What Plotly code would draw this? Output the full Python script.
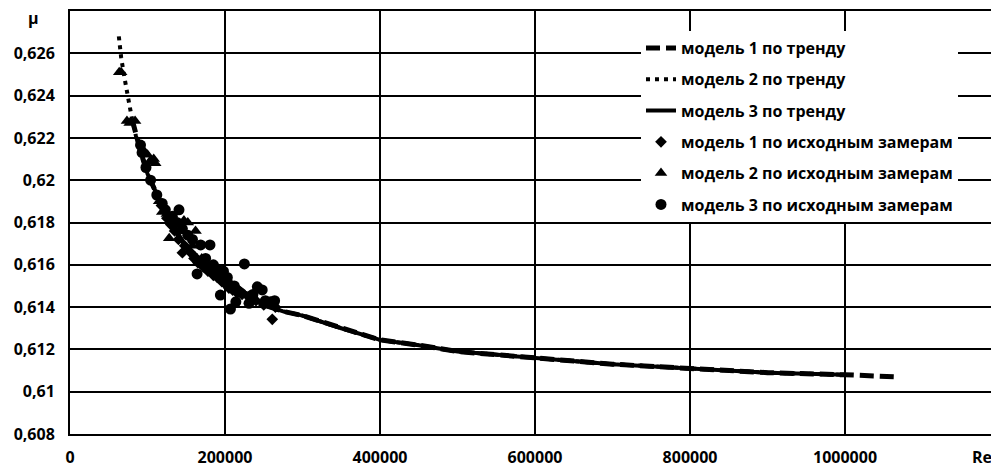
import plotly.graph_objects as go

# ---- trend curves (Re, mu) ----
re_trend1 = [80000, 85000, 90000, 95000, 100000, 110000, 120000, 135000, 150000, 175000,
             200000, 225000, 250000, 275000, 300000, 350000, 400000, 450000, 500000,
             600000, 700000, 800000, 900000, 1000000, 1070000]
mu_trend1 = [0.6229, 0.6221, 0.6215, 0.6209, 0.6203, 0.6195, 0.6187, 0.6177, 0.6168, 0.6161,
             0.6154, 0.6147, 0.6141, 0.6138, 0.6136, 0.6130, 0.61245, 0.6122, 0.6119,
             0.6116, 0.6113, 0.6111, 0.6109, 0.6108, 0.6107]

re_trend2 = [63000, 66000, 70000, 75000, 80000, 85000, 90000, 95000, 100000, 110000, 120000,
             135000, 150000, 175000, 200000, 225000, 250000, 275000, 300000, 350000, 400000,
             450000, 500000, 600000, 700000, 800000, 900000, 1000000]
mu_trend2 = [0.6268, 0.6258, 0.6249, 0.6238, 0.6229, 0.6221, 0.6215, 0.6209, 0.6203, 0.6195,
             0.6187, 0.6177, 0.6168, 0.6161, 0.6154, 0.6147, 0.6141, 0.6138, 0.6136, 0.6130,
             0.61245, 0.6122, 0.6119, 0.6116, 0.6113, 0.6111, 0.6109, 0.6108]

re_trend3 = [90000, 95000, 100000, 110000, 120000, 135000, 150000, 175000, 200000, 225000,
             250000, 275000, 300000, 350000, 400000, 450000, 500000, 600000, 700000,
             800000, 900000, 1000000]
mu_trend3 = [0.6215, 0.6209, 0.6203, 0.6195, 0.6187, 0.6177, 0.6168, 0.6161, 0.6154, 0.6147,
             0.6141, 0.6138, 0.6136, 0.6130, 0.61245, 0.6122, 0.6119, 0.6116, 0.6113,
             0.6111, 0.6109, 0.6108]

# ---- measured points ----
re_meas1 = [118000, 125000, 130000, 135000, 140000, 145000, 148000, 155000, 160000, 165000,
            172000, 178000, 185000, 190000, 196000, 200000, 205000, 210000, 215000, 222000,
            230000, 240000, 250000, 261000, 265000]
mu_meas1 = [0.6188, 0.6182, 0.6179, 0.6176, 0.6172, 0.61657, 0.6169, 0.6166, 0.6163, 0.6161,
            0.6159, 0.6157, 0.6155, 0.6154, 0.6152, 0.6151, 0.6149, 0.6148, 0.6147, 0.6146,
            0.6145, 0.6143, 0.6141, 0.61342, 0.6140]

re_meas2 = [63500, 66000, 73500, 77000, 84000, 95000, 100000, 103000, 108000, 110000, 115000,
            119000, 125000, 128000, 135000, 147000, 152000, 158000, 162000, 170000, 182000,
            192000, 200000, 210000]
mu_meas2 = [0.6251, 0.6251, 0.6228, 0.6227, 0.6228, 0.6214, 0.6212, 0.6209, 0.6210, 0.6208,
            0.6190, 0.6185, 0.6184, 0.61725, 0.6179, 0.6181, 0.6180, 0.6169, 0.6176, 0.6163,
            0.6158, 0.6155, 0.6153, 0.6150]

re_meas3 = [91000, 93000, 98000, 104000, 112000, 119000, 123000, 132000, 138000, 140600,
            145000, 152000, 158000, 164000, 168600, 175000, 180600, 185000, 190000, 194000,
            198000, 203000, 207000, 212000, 214000, 218000, 225000, 231000, 236000, 241700,
            248000, 252000, 259000, 264000]
mu_meas3 = [0.62166, 0.6213, 0.6206, 0.6200, 0.6193, 0.6189, 0.6186, 0.6183, 0.6180, 0.6186,
            0.6177, 0.6174, 0.6172, 0.61557, 0.61694, 0.6163, 0.61694, 0.6160, 0.6158, 0.61457,
            0.6157, 0.6154, 0.61391, 0.6150, 0.61425, 0.6147, 0.61604, 0.61418, 0.6146, 0.61496,
            0.61481, 0.6143, 0.61425, 0.6143]

y_ticks = [0.608, 0.61, 0.612, 0.614, 0.616, 0.618, 0.62, 0.622, 0.624, 0.626]
y_tick_text = ["0,608", "0,61", "0,612", "0,614", "0,616", "0,618", "0,62", "0,622", "0,624", "0,626"]
x_ticks = [0, 200000, 400000, 600000, 800000, 1000000]
x_tick_text = ["0", "200000", "400000", "600000", "800000", "1000000"]

FONT = "Open Sans"
W, H = 999, 459          # page body has an 8px margin; right edge runs past the window
ML, MR, MT, MB = 62, 0, 3, 33
PW, PH = W - ML - MR, H - MT - MB

fig = go.Figure()
fig.add_trace(go.Scatter(x=re_trend1, y=mu_trend1, mode="lines", name="модель 1 по тренду",
                         legendgroup="a",
                         line=dict(color="black", width=5, dash="14px,6px")))
fig.add_trace(go.Scatter(x=re_trend2, y=mu_trend2, mode="lines", name="модель 2 по тренду",
                         legendgroup="b",
                         line=dict(color="black", width=4, dash="4px,5px")))
fig.add_trace(go.Scatter(x=re_trend3, y=mu_trend3, mode="lines", name="модель 3 по тренду",
                         legendgroup="c",
                         line=dict(color="black", width=4)))
fig.add_trace(go.Scatter(x=re_meas1, y=mu_meas1, mode="markers", name="модель 1 по исходным замерам",
                         legendgroup="d",
                         marker=dict(symbol="diamond", size=9, color="black")))
fig.add_trace(go.Scatter(x=re_meas2, y=mu_meas2, mode="markers", name="модель 2 по исходным замерам",
                         legendgroup="e",
                         marker=dict(symbol="triangle-up", size=11, color="black")))
fig.add_trace(go.Scatter(x=re_meas3, y=mu_meas3, mode="markers", name="модель 3 по исходным замерам",
                         legendgroup="f",
                         marker=dict(symbol="circle", size=11, color="black")))

fig.update_layout(
    width=W, height=H,
    margin=dict(l=ML, r=MR, t=MT, b=MB),
    paper_bgcolor="white", plot_bgcolor="white",
    font=dict(family=FONT, color="black"),
    legend=dict(x=571 / PW, y=(PH - 20) / PH, xanchor="left", yanchor="top",
                bgcolor="white", font=dict(family=FONT, size=16, weight="bold", color="black"),
                tracegroupgap=7.5, traceorder="grouped"),
    showlegend=True,
)
fig.update_xaxes(range=[0, 1209000], tickvals=x_ticks, ticktext=x_tick_text,
                 showgrid=True, gridcolor="black", gridwidth=2,
                 showline=True, linecolor="black", linewidth=2, mirror=True,
                 zeroline=False, ticks="", ticklabelstandoff=8,
                 tickfont=dict(family=FONT, size=16, weight="bold", color="black"))
fig.update_yaxes(range=[0.608, 0.628], tickvals=y_ticks, ticktext=y_tick_text,
                 showgrid=True, gridcolor="black", gridwidth=2,
                 showline=True, linecolor="black", linewidth=2,
                 zeroline=False, ticks="", ticklabelstandoff=10,
                 tickfont=dict(family=FONT, size=16, weight="bold", color="black"))

fig.add_annotation(text="μ", xref="paper", yref="paper", x=(25 - ML) / PW, y=1.0,
                   xanchor="center", yanchor="middle", yshift=-7, showarrow=False,
                   font=dict(family=FONT, size=16, weight="bold", color="black"))
fig.add_annotation(text="Re", xref="paper", yref="paper", x=(974 - ML) / PW, y=0,
                   xanchor="center", yanchor="top", yshift=-10, showarrow=False,
                   font=dict(family=FONT, size=16, weight="bold", color="black"))

fig.write_html("out.html")
